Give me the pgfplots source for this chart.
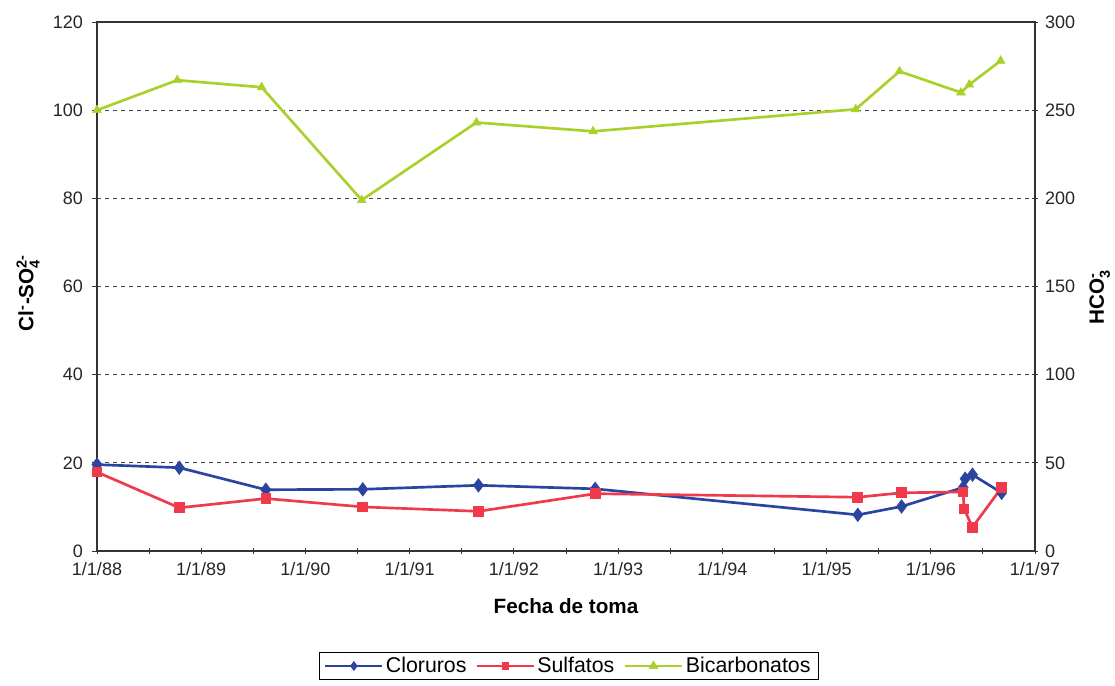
\documentclass[border=0pt]{standalone}
\usepackage{fontspec}
\setmainfont{Liberation Sans}
\usepackage{amsmath}
\usepackage{pgfplots}
\pgfplotsset{compat=1.18}
\definecolor{cblue}{HTML}{2A44A0}
\definecolor{cred}{HTML}{F03A4C}
\definecolor{cgreen}{HTML}{A8D22A}
\definecolor{cgrid}{HTML}{4A4A66}
\definecolor{caxis}{HTML}{333333}
\begin{document}
\begin{tikzpicture}
\pgfplotsset{
  every axis/.append style={
    scale only axis, width=703.5pt, height=396.75pt,
    xmin=0, xmax=9,
    axis line style={caxis, line width=0.8pt},
    tick style={caxis, line width=0.7pt},
    major tick length=4pt, minor tick length=4pt,
    tick label style={font=\fontsize{13.5}{15}\selectfont, text=black!85},
    label style={font=\fontsize{15.5}{17}\selectfont\bfseries},
    /pgf/number format/assume math mode=true,
  },
  leg/.style={legend image code/.code={%
    \draw[mark repeat=2,mark phase=2,##1] plot coordinates {(0cm,0cm) (0.75cm,0cm) (1.5cm,0cm)};}},
}
\begin{axis}[
  ymin=0, ymax=120,
  xtick={0,...,9},
  xticklabels={1/1/88,1/1/89,1/1/90,1/1/91,1/1/92,1/1/93,1/1/94,1/1/95,1/1/96,1/1/97},
  minor xtick={0.5,1.5,...,8.5},
  xtick pos=bottom, ytick pos=left,
  ytick={0,20,...,120},
  x tick label style={yshift=-3pt},
  y tick label style={xshift=-3pt},
  xtick align=center, ytick align=outside,
  ymajorgrids,
  grid style={cgrid, line width=0.6pt, dash pattern=on 3pt off 3pt},
  xlabel={Fecha de toma},
  xlabel style={at={(axis description cs:0.5,-0.104)}, anchor=center},
  ylabel={Cl\textsuperscript{-}-SO$_{\text{4}}^{\text{2-}}$},
  ylabel style={at={(axis description cs:-0.0736,0.488)}, anchor=center},
]
\addplot[cblue, line width=2pt, mark=diamond*, mark size=3.8pt] coordinates {
 (0,19.6) (0.79,18.9) (1.62,13.9) (2.55,14.0) (3.66,14.9) (4.78,14.1)
 (7.30,8.2) (7.72,10.1) (8.31,14.4) (8.33,16.4) (8.40,17.3) (8.68,13.2)};
\addplot[cred, line width=2pt, mark=square*, mark size=3pt] coordinates {
 (0,17.9) (0.79,9.8) (1.62,11.9) (2.55,10.0) (3.66,9.0) (4.78,13.0)
 (7.30,12.2) (7.72,13.2) (8.31,13.4) (8.32,9.5) (8.40,5.4) (8.68,14.4)};
\end{axis}
\begin{axis}[
  ymin=0, ymax=300,
  axis x line=none, axis y line*=right,
  ytick={0,50,...,300},
  ytick align=center,
  y tick label style={xshift=2pt},
  ylabel={HCO$_{\text{3}}^{\text{-}}$},
  ylabel style={at={(axis description cs:1.069,0.48)}, anchor=center, rotate=0},
  leg,
  legend columns=3,
  legend style={at={(axis description cs:0.503,-0.2174)}, anchor=center,
    draw=black, line width=0.6pt, font=\fontsize{16}{18}\selectfont,
    inner xsep=4pt, inner ysep=1.5pt,
    /tikz/every even column/.append style={column sep=5pt}},
]
\addlegendimage{cblue, line width=1.4pt, mark=diamond*, mark size=2.6pt}
\addlegendentry{Cloruros}
\addlegendimage{cred, line width=1.4pt, mark=square*, mark size=2.1pt}
\addlegendentry{Sulfatos}
\addplot[cgreen, line width=2pt, mark=triangle*, mark size=3.8pt, mark options={line width=0.4pt}] coordinates {
 (0,250) (0.77,267) (1.58,263) (2.54,199) (3.64,243) (4.76,238)
 (7.28,250.5) (7.70,272) (8.29,260) (8.37,264.5) (8.67,278)};
\addlegendentry{Bicarbonatos}
\end{axis}
\pgfresetboundingbox
\path[use as bounding box] (-72.75pt,-101.25pt) rectangle (763.5pt,413.25pt);
\end{tikzpicture}
\end{document}
